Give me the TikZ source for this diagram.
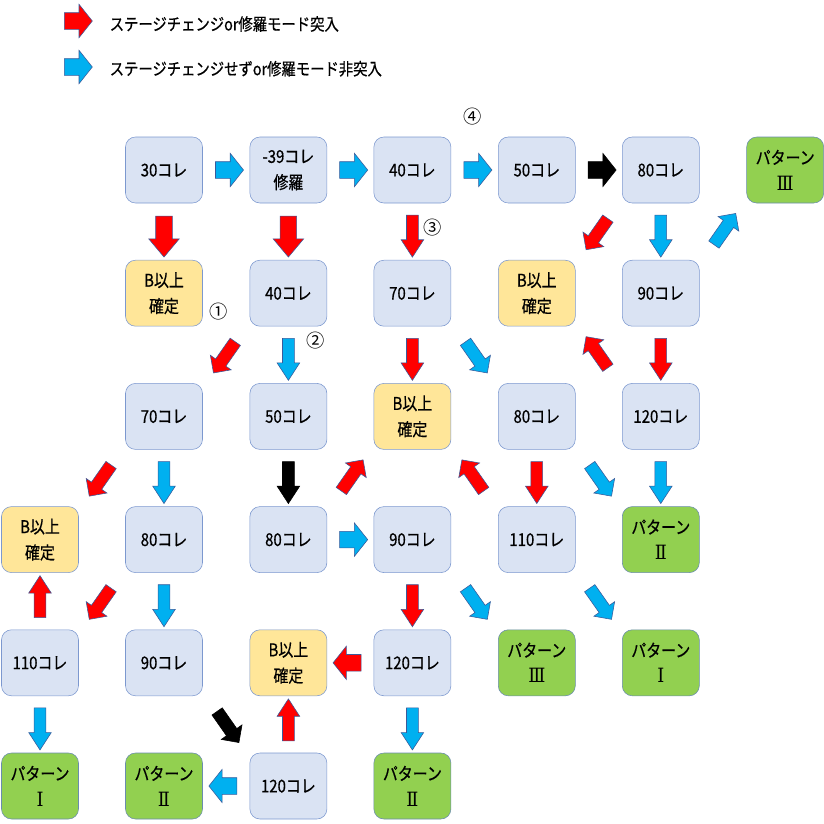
\documentclass[tikz,border=0pt]{standalone}
\usepackage{fontspec}
\setmainfont{Noto Sans CJK JP}[FakeStretch=0.85,FakeBold=0.6]
\newfontfamily\circfont{Noto Sans CJK JP}
\newfontfamily\romfont{DejaVu Serif}[FakeStretch=0.9]
\usetikzlibrary{shapes.arrows}

\definecolor{korefill}{HTML}{DAE3F3}
\definecolor{bfill}{HTML}{FFE699}
\definecolor{patfill}{HTML}{92D050}
\definecolor{boxline}{HTML}{7C98CF}
\definecolor{patline}{HTML}{6A8CAE}
\definecolor{skyblue}{HTML}{00B0F0}
\definecolor{arrline}{HTML}{3A5A9A}

\tikzset{
  box/.style={draw=boxline,rounded corners=0.25cm,minimum width=1.925cm,minimum height=1.65cm,
    align=center,inner sep=0pt,font=\fontsize{12.5}{18.5}\selectfont},
  kore/.style={box,fill=korefill},
  bfix/.style={box,fill=bfill},
  pat/.style={box,fill=patfill,draw=patline},
  arr/.style={single arrow,draw=arrline,line width=0.4pt,inner xsep=0pt,single arrow head indent=0pt},
  harr/.style={arr,minimum height=0.7cm,inner ysep=0.2cm,single arrow head extend=0.21cm,single arrow tip angle=103},
  varr/.style={arr,minimum height=1.05cm,inner ysep=0.14cm,single arrow head extend=0.135cm,single arrow tip angle=66},
  bigarr/.style={arr,minimum height=1.025cm,inner ysep=0.2cm,single arrow head extend=0.175cm,single arrow tip angle=80},
  darr/.style={arr,minimum height=0.95cm,inner ysep=0.15cm,single arrow head extend=0.16cm,single arrow tip angle=90},
  go/.style={fill=red},
  stay/.style={fill=skyblue},
  blk/.style={fill=black,draw=black},
  legend/.style={anchor=west,font=\fontsize{12}{15}\selectfont},
  num/.style={font=\circfont\fontsize{13}{14}\selectfont}
}
\newcommand\rom[1]{{\romfont\fontsize{14}{18.5}\selectfont #1}}

\begin{document}
\begin{tikzpicture}
    \useasboundingbox (0,0) rectangle (20.6,-20.6);
    % legend
    \node[harr,go] (lgo) at (1.875,-0.525) {};
    \node[legend] (tgo) at (2.62,-0.6) {ステージチェンジor修羅モード突入};
    \node[harr,stay] (lstay) at (1.875,-1.675) {};
    \node[legend] (tstay) at (2.62,-1.72) {ステージチェンジせずor修羅モード非突入};

    % row 1
    \node[kore] (a1) at (4.1,-4.25) {30コレ};
    \node[kore] (a2) at (7.21,-4.25) {-39コレ\\修羅};
    \node[kore] (a3) at (10.31,-4.25) {40コレ};
    \node[kore] (a4) at (13.42,-4.25) {50コレ};
    \node[kore] (a5) at (16.52,-4.25) {80コレ};
    \node[pat] (a6) at (19.63,-4.25) {パターン\\\rom{Ⅲ}};
    % row 2
    \node[bfix] (b1) at (4.1,-7.33) {B以上\\確定};
    \node[kore] (b2) at (7.21,-7.33) {40コレ};
    \node[kore] (b3) at (10.31,-7.33) {70コレ};
    \node[bfix] (b4) at (13.42,-7.33) {B以上\\確定};
    \node[kore] (b5) at (16.52,-7.33) {90コレ};
    % row 3
    \node[kore] (c1) at (4.1,-10.41) {70コレ};
    \node[kore] (c2) at (7.21,-10.41) {50コレ};
    \node[bfix] (c3) at (10.31,-10.41) {B以上\\確定};
    \node[kore] (c4) at (13.42,-10.41) {80コレ};
    \node[kore] (c5) at (16.52,-10.41) {120コレ};
    % row 4
    \node[bfix] (d0) at (1.0,-13.49) {B以上\\確定};
    \node[kore] (d1) at (4.1,-13.49) {80コレ};
    \node[kore] (d2) at (7.21,-13.49) {80コレ};
    \node[kore] (d3) at (10.31,-13.49) {90コレ};
    \node[kore] (d4) at (13.42,-13.49) {110コレ};
    \node[pat] (d5) at (16.52,-13.49) {パターン\\\rom{Ⅱ}};
    % row 5
    \node[kore] (e0) at (1.0,-16.57) {110コレ};
    \node[kore] (e1) at (4.1,-16.57) {90コレ};
    \node[bfix] (e2) at (7.21,-16.57) {B以上\\確定};
    \node[kore] (e3) at (10.31,-16.57) {120コレ};
    \node[pat] (e4) at (13.42,-16.57) {パターン\\\rom{Ⅲ}};
    \node[pat] (e5) at (16.52,-16.57) {パターン\\\rom{Ⅰ}};
    % row 6
    \node[pat] (f0) at (1.0,-19.65) {パターン\\\rom{Ⅰ}};
    \node[pat] (f1) at (4.1,-19.65) {パターン\\\rom{Ⅱ}};
    \node[kore] (f2) at (7.21,-19.65) {120コレ};
    \node[pat] (f3) at (10.31,-19.65) {パターン\\\rom{Ⅱ}};

    % circled numbers
    \node[num] (n1) at (5.475,-7.8) {①};
    \node[num] (n2) at (7.9,-8.525) {②};
    \node[num] (n3) at (10.825,-5.7) {③};
    \node[num] (n4) at (11.825,-2.925) {④};

    % connectors
    \path (a1) -- node[harr,stay] {} (a2)
          (a2) -- node[harr,stay] {} (a3)
          (a3) -- node[harr,stay] {} (a4)
          (a4) -- node[harr,blk] {} (a5)
          (a1) -- node[bigarr,go,rotate=-90] {} (b1)
          (a2) -- node[bigarr,go,rotate=-90] {} (b2)
          (a3) -- node[varr,go,rotate=-90] {} (b3)
          (a5) -- node[varr,stay,rotate=-90] {} (b5)
          (a5) -- node[darr,go,rotate=-125] {} (b4)
          (b5) -- node[darr,stay,rotate=55] {} (a6);
    \path (b2) -- node[darr,go,rotate=-125] {} (c1)
          (b2) -- node[varr,stay,rotate=-90] {} (c2)
          (b3) -- node[varr,go,rotate=-90] {} (c3)
          (b3) -- node[darr,stay,rotate=-55] {} (c4)
          (b5) -- node[varr,go,rotate=-90] {} (c5)
          (c5) -- node[darr,go,rotate=125] {} (b4);
    \path (c1) -- node[darr,go,rotate=-125] {} (d0)
          (c1) -- node[varr,stay,rotate=-90] {} (d1)
          (c2) -- node[varr,blk,rotate=-90] {} (d2)
          (d2) -- node[darr,go,rotate=55] {} (c3)
          (d2) -- node[harr,stay] {} (d3)
          (c4) -- node[varr,go,rotate=-90] {} (d4)
          (d4) -- node[darr,go,rotate=125] {} (c3)
          (c4) -- node[darr,stay,rotate=-55] {} (d5)
          (c5) -- node[varr,stay,rotate=-90] {} (d5);
    \path (d1) -- node[varr,stay,rotate=-90] {} (e1)
          (d1) -- node[darr,go,rotate=-125] {} (e0)
          (e0) -- node[varr,go,rotate=90] {} (d0)
          (d3) -- node[varr,go,rotate=-90] {} (e3)
          (d3) -- node[darr,stay,rotate=-55] {} (e4)
          (d4) -- node[darr,stay,rotate=-55] {} (e5)
          (e3) -- node[harr,go,rotate=180] {} (e2);
    \path (e0) -- node[varr,stay,rotate=-90] {} (f0)
          (e1) -- node[darr,blk,rotate=-55] {} (f2)
          (f2) -- node[varr,go,rotate=90] {} (e2)
          (f2) -- node[harr,stay,rotate=180] {} (f1)
          (e3) -- node[varr,stay,rotate=-90] {} (f3);
\end{tikzpicture}
\end{document}
